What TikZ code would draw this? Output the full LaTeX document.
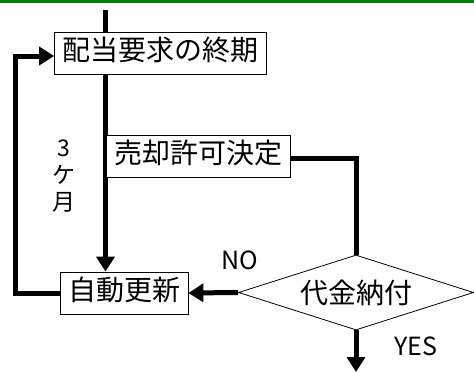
\documentclass[tikz,border=0pt]{standalone}
\usepackage{fontspec}
\setmainfont{Noto Sans CJK JP}
\usetikzlibrary{shapes.geometric,arrows.meta}
\definecolor{topgreen}{RGB}{0,128,0}
\tikzset{
  box/.style={draw=black, line width=0.8pt, fill=white, inner xsep=8pt, inner ysep=0pt,
    text height=21pt, text depth=7pt, minimum height=42pt, font=\fontsize{28}{30}\selectfont},
  dec/.style={draw=black, line width=0.8pt, fill=white, shape=diamond, inner sep=0pt, aspect=3.13,
    minimum width=235pt, minimum height=75pt, font=\fontsize{28}{30}\selectfont},
  conn/.style={line width=5pt},
  arr/.style={line width=5pt, -{Triangle[width=18pt,length=15pt]}},
  lbl/.style={font=\fontsize{25}{28}\selectfont, inner sep=0pt},
}
\begin{document}
\begin{tikzpicture}[x=1pt,y=-1pt]
\useasboundingbox (0,0) rectangle (474,372);
\fill[topgreen] (0,0) rectangle (474,2.6);
% coordinates
\coordinate (top) at (105.5,10);
\coordinate (endp) at (356,372);
\coordinate (lx) at (15,0);
% nodes
\node[box] (b1) at (160.5,53) {配当要求の終期};
\node[box] (b3) at (124,293) {自動更新};
\node[dec] (d) at (356,292.5) {代金納付};
% connectors
\draw[conn] (top) -- (b1.north -| top);
\draw[arr] (b1.south -| top) -- (b3.north -| top);
\node[box, anchor=west] (b2) at (106,156) {売却許可決定};
\draw[conn] ([yshift=-2pt]b2.east) -| (d.north);
\draw[arr] (d.west) -- (b3.east);
\draw[arr] (d.south) -- (endp);
\draw[arr] (b3.west) -| (lx |- 0,56) -- (b1.west |- 0,56);
% labels
\node[lbl] (no) at (240,260) {NO};
\node[lbl] (yes) at (416,346) {YES};
\node[font=\fontsize{23}{27}\selectfont, align=center, inner sep=0pt] (m) at (64,176) {3\\ケ\\月};
\end{tikzpicture}
\end{document}
